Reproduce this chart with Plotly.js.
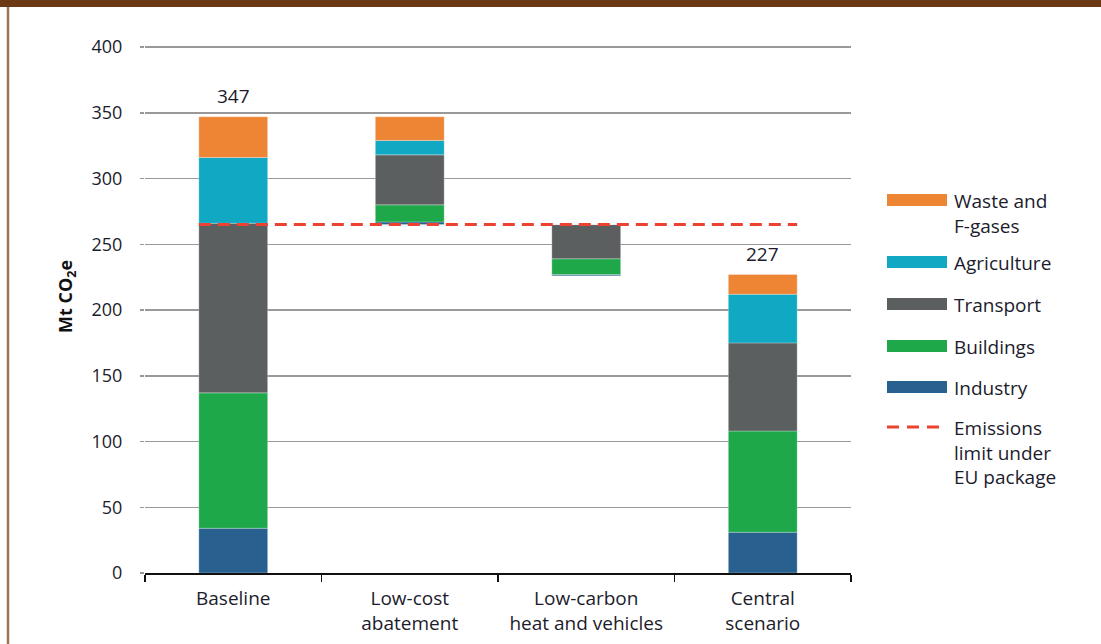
<!DOCTYPE html>
<html>
<head>
<meta charset="utf-8">
<script src="https://cdn.plot.ly/plotly-3.0.1.min.js"></script>
<style>
  html, body { margin: 0; padding: 0; background: #ffffff; }
  #chart { width: 1101px; height: 644px; }
</style>
</head>
<body>
<div id="chart"></div>
<script>
// ---------- DATA ----------
const categories = ["Baseline", "Low-cost<br>abatement", "Low-carbon<br>heat and vehicles", "Central<br>scenario"];
// starting level (Mt CO2e) of each column's stack
const stackStart = [0, 265, 226, 0];
// series, bottom to top of each stack
const industry    = [34, 2, 1, 31];
const buildings   = [103, 13, 12, 77];
const transport   = [129, 38, 26, 67];
const agriculture = [50, 11, 0, 37];
const waste       = [31, 18, 0, 15];
const showTotal   = [true, false, false, true];
const emissionsLimit = 265;
const yTicks = [0, 50, 100, 150, 200, 250, 300, 350, 400];

const seriesNames = ["Industry", "Buildings", "Transport", "Agriculture", "Waste and<br>F-gases"];
const seriesValues = [industry, buildings, transport, agriculture, waste];
const seriesColors = ["#28618f", "#1fa84a", "#5b5f60", "#10a8c2", "#ee8535"];
const limitName = "Emissions<br>limit under<br>EU package";
const limitColor = "#ec4230";
const yTitle = "<b>Mt CO<sub>2</sub>e</b>";

// ---------- BUILD ----------
const FONT = "'Open Sans', Lato, sans-serif";
const TXT = "#1c1c2c";
const barWidth = 0.39;
const running = stackStart.slice();
const traces = seriesValues.map((vals, s) => {
  const base = running.slice();
  vals.forEach((v, i) => { running[i] += v; });
  return {
    type: "bar",
    x: categories,
    y: vals,
    base: base,
    width: barWidth,
    name: seriesNames[s],
    marker: { color: seriesColors[s], line: { width: 0.8, color: "rgba(255,255,255,0.35)" } },
    hoverinfo: "x+y+name",
    showlegend: false
  };
});
const totals = running;

const W = 1101, H = 644;
const margin = { l: 145, r: 250, t: 46, b: 71 };
const pw = W - margin.l - margin.r, ph = H - margin.t - margin.b;
const px2x = p => (p - margin.l) / pw;
const py2y = p => (H - margin.b - p) / ph;

const shapes = [
  // emissions limit line
  {
    type: "line", xref: "x", yref: "y", layer: "above",
    x0: 0 - barWidth / 2, x1: (categories.length - 1) + barWidth / 2,
    y0: emissionsLimit, y1: emissionsLimit,
    line: { color: limitColor, width: 3, dash: "12px,7px" }
  },
  // page frame: top band and left rule
  { type: "rect", xref: "paper", yref: "paper", x0: px2x(0), x1: px2x(W), y0: py2y(7), y1: py2y(-2),
    line: { width: 0 }, fillcolor: "#6b3a14", layer: "above" },
  { type: "line", xref: "paper", yref: "paper", x0: px2x(8), x1: px2x(8), y0: py2y(7), y1: py2y(H + 2),
    line: { width: 2.5, color: "#9b7656" }, layer: "above" }
];

const annotations = [];
// y-axis title
annotations.push({
  xref: "paper", yref: "paper", x: px2x(66), y: py2y(297), textangle: -90,
  xanchor: "center", yanchor: "middle", showarrow: false, text: yTitle,
  font: { family: FONT, size: 18, color: "#111" }
});
// total labels
categories.forEach((c, i) => {
  if (showTotal[i]) {
    annotations.push({
      x: c, y: totals[i], xref: "x", yref: "y", text: String(totals[i]),
      showarrow: false, yanchor: "bottom", yshift: 6,
      font: { family: FONT, size: 19, color: TXT }
    });
  }
});

// custom legend (top to bottom)
const legendRows = [4, 3, 2, 1, 0];
const rowCenters = [200, 262, 304, 346, 387];
legendRows.forEach((s, k) => {
  const cy = rowCenters[k];
  shapes.push({ type: "rect", xref: "paper", yref: "paper",
    x0: px2x(887), x1: px2x(947), y0: py2y(cy + 6), y1: py2y(cy - 6),
    fillcolor: seriesColors[s], line: { width: 0 } });
  annotations.push({ xref: "paper", yref: "paper", x: px2x(953), y: py2y(cy - 13),
    xanchor: "left", yanchor: "top", align: "left", showarrow: false, borderpad: 0,
    text: seriesNames[s], font: { family: FONT, size: 19, color: TXT } });
});
const limCy = 427;
shapes.push({ type: "line", xref: "paper", yref: "paper",
  x0: px2x(887), x1: px2x(947), y0: py2y(limCy), y1: py2y(limCy),
  line: { color: limitColor, width: 3, dash: "12px,8px" } });
annotations.push({ xref: "paper", yref: "paper", x: px2x(953), y: py2y(limCy - 13),
  xanchor: "left", yanchor: "top", align: "left", showarrow: false, borderpad: 0,
  text: limitName, font: { family: FONT, size: 19, color: TXT } });

const layout = {
  width: W, height: H,
  margin: margin,
  paper_bgcolor: "#ffffff",
  plot_bgcolor: "#ffffff",
  barmode: "overlay",
  showlegend: false,
  font: { family: FONT, size: 18, color: TXT },
  xaxis: {
    type: "category",
    categoryorder: "array", categoryarray: categories,
    range: [-0.5, categories.length - 0.5],
    showline: true, linecolor: "#111", linewidth: 1.5,
    ticks: "outside", tickson: "boundaries", ticklen: 7, tickcolor: "#111", tickwidth: 1.5,
    showgrid: false, zeroline: false,
    ticklabelstandoff: 8,
    tickfont: { family: FONT, size: 19, color: TXT }
  },
  yaxis: {
    range: [0, 400.8],
    tickvals: yTicks,
    ticks: "outside", ticklen: 4, tickcolor: "#999", tickwidth: 1.5,
    showline: false, zeroline: false,
    showgrid: true, gridcolor: "#999", gridwidth: 1.5,
    ticklabelstandoff: 14,
    tickfont: { family: FONT, size: 18, color: TXT }
  },
  shapes: shapes,
  annotations: annotations
};

Plotly.newPlot("chart", traces, layout, { displayModeBar: false, staticPlot: true });
</script>
</body>
</html>
